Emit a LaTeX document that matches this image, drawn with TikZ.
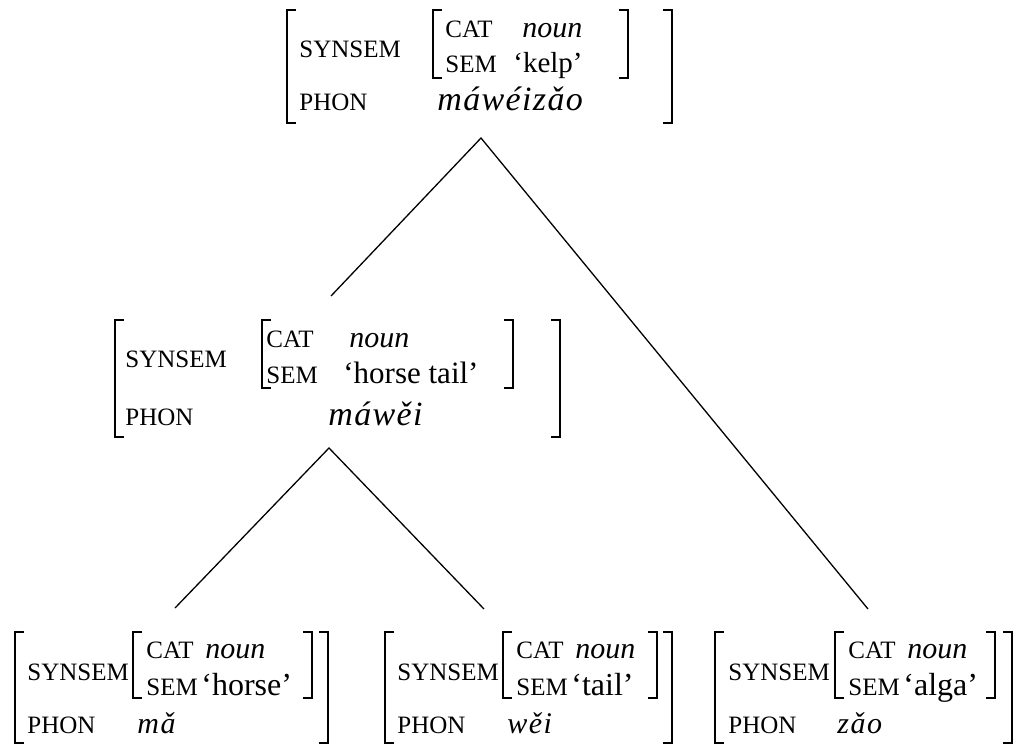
\documentclass[tikz,border=0pt]{standalone}
\usepackage{fontspec}
\setmainfont{Liberation Serif}
% square brackets of an attribute-value matrix: x, top y, bottom y
\newcommand\avmopen[3]{\draw[brk] (#1+9,#2) -- (#1,#2) -- (#1,#3) -- (#1+9,#3);}
\newcommand\avmclose[3]{\draw[brk] (#1-9,#2) -- (#1,#2) -- (#1,#3) -- (#1-9,#3);}
\begin{document}
\begin{tikzpicture}[x=0.5pt,y=-0.5pt,
  feat/.style={anchor=base west,inner sep=0pt,font=\fontsize{12.5}{14}\selectfont},
  val/.style={anchor=base west,inner sep=0pt,font=\fontsize{#1}{18}\selectfont},
  cat/.style={anchor=base west,inner sep=0pt,font=\fontsize{15}{17}\selectfont\itshape},
  phon/.style={anchor=base west,inner sep=0pt,font=\fontsize{17}{20}\selectfont\itshape\addfontfeatures{LetterSpace=4}},
  phonsm/.style={anchor=base west,inner sep=0pt,font=\fontsize{15}{18}\selectfont\itshape\addfontfeatures{LetterSpace=5}},
  brk/.style={line width=0.9pt},
  branch/.style={line width=0.65pt}]
\useasboundingbox (0,0) rectangle (1018,745);

% ---- máwéizǎo 'kelp'
\avmopen{287}{10}{123}\avmclose{672}{10}{123}
\avmopen{433}{10}{78}\avmclose{628}{10}{78}
\node[feat] (kelp-synsem) at (299,57) {SYNSEM};
\node[feat] (kelp-cat) at (445,37) {CAT};
\node[cat]  (kelp-catv) at (522,37) {noun};
\node[feat] (kelp-sem) at (445,72) {SEM};
\node[val=14.5] (kelp-semv) at (513,72) {‘kelp’};
\node[feat] (kelp-phon) at (299,110) {PHON};
\node[phon] (kelp-phonv) at (437,110) {máwéizǎo};

% ---- máwěi 'horse tail'
\avmopen{115}{320}{437}\avmclose{560}{320}{437}
\avmopen{262}{320}{388}\avmclose{513}{320}{388}
\node[feat] (ht-synsem) at (125,367) {SYNSEM};
\node[feat] (ht-cat) at (266,347) {CAT};
\node[cat]  (ht-catv) at (349,347) {noun};
\node[feat] (ht-sem) at (266,383) {SEM};
\node[val=15.5] (ht-semv) at (343,383) {‘horse tail’};
\node[feat] (ht-phon) at (125,425) {PHON};
\node[phon] (ht-phonv) at (328,425) {máwěi};

% ---- mǎ 'horse'
\avmopen{15}{632}{743}\avmclose{328}{632}{743}
\avmopen{133}{632}{698}\avmclose{312}{632}{698}
\node[feat] (horse-synsem) at (27,680) {SYNSEM};
\node[feat] (horse-cat) at (146,658) {CAT};
\node[cat]  (horse-catv) at (205,658) {noun};
\node[feat] (horse-sem) at (146,695) {SEM};
\node[val=16] (horse-semv) at (201,695) {‘horse’};
\node[feat] (horse-phon) at (27,733) {PHON};
\node[phonsm] (horse-phonv) at (137,733) {mǎ};

% ---- wěi 'tail'
\avmopen{385}{632}{743}\avmclose{672}{632}{743}
\avmopen{503}{632}{698}\avmclose{657}{632}{698}
\node[feat] (tail-synsem) at (397,680) {SYNSEM};
\node[feat] (tail-cat) at (516,658) {CAT};
\node[cat]  (tail-catv) at (575,658) {noun};
\node[feat] (tail-sem) at (516,695) {SEM};
\node[val=16] (tail-semv) at (571,695) {‘tail’};
\node[feat] (tail-phon) at (397,733) {PHON};
\node[phonsm] (tail-phonv) at (507,733) {wěi};

% ---- zǎo 'alga'
\avmopen{715}{632}{743}\avmclose{1012}{632}{743}
\avmopen{835}{632}{698}\avmclose{995}{632}{698}
\node[feat] (alga-synsem) at (728,680) {SYNSEM};
\node[feat] (alga-cat) at (848,658) {CAT};
\node[cat]  (alga-catv) at (907,658) {noun};
\node[feat] (alga-sem) at (848,695) {SEM};
\node[val=16] (alga-semv) at (903,695) {‘alga’};
\node[feat] (alga-phon) at (728,733) {PHON};
\node[phonsm] (alga-phonv) at (837,733) {zǎo};

% ---- branches
\coordinate (kelp-foot) at (481,138);
\coordinate (ht-head) at (331,296);
\coordinate (alga-head) at (868,609);
\coordinate (ht-foot) at (329,448);
\coordinate (horse-head) at (175,608);
\coordinate (tail-head) at (484,609);
\draw[branch] (ht-head) -- (kelp-foot) -- (alga-head);
\draw[branch] (horse-head) -- (ht-foot) -- (tail-head);
\end{tikzpicture}
\end{document}
